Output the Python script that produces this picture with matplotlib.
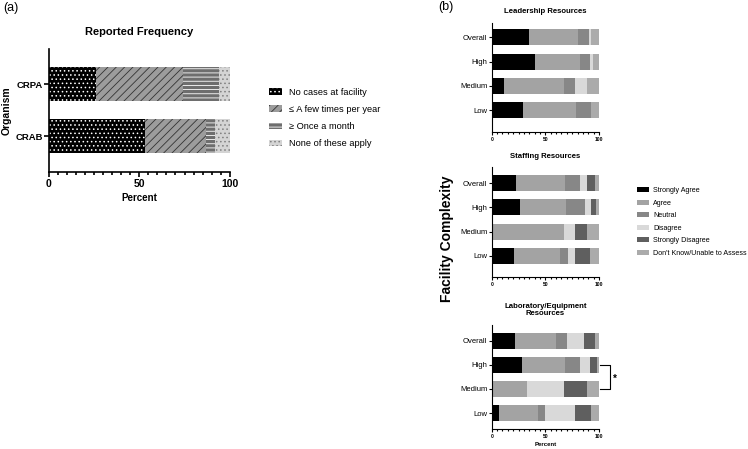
import numpy as np
import matplotlib
matplotlib.use('Agg')
import matplotlib.pyplot as plt
from matplotlib.ticker import MultipleLocator

plt.rcParams['font.family'] = ['Liberation Sans', 'DejaVu Sans']
plt.rcParams['hatch.linewidth'] = 0.6

W, H = 748, 449

# (a) Reported frequency, bottom to top
organisms = ['CRAB', 'CRPA']
freq_labels = ['No cases at facility', '\u2264 A few times per year',
               '\u2265 Once a month', 'None of these apply']
no_cases = [53, 26]
few_times = [34, 48]
once_month = [5, 20]
none_apply = [8, 6]

# (b) Facility complexity, bottom to top
complexity = ['Low', 'Medium', 'High', 'Overall']
resp_labels = ['Strongly Agree', 'Agree', 'Neutral', 'Disagree',
               'Strongly Disagree', "Don't Know/Unable to Assess"]
# rows: SA, A, N, D, SD, DK ; columns: Low, Medium, High, Overall
leadership = [[29, 11, 40, 35],
              [50, 56, 42, 45],
              [14, 11, 10, 11],
              [0, 11, 2, 2],
              [0, 0, 0, 0],
              [7, 11, 6, 7]]
staffing = [[21, 0, 26, 23],
            [43, 67, 43, 45],
            [7, 0, 18, 14],
            [7, 11, 6, 7],
            [14, 11, 4, 7],
            [8, 11, 3, 4]]
laboratory = [[7, 0, 28, 22],
              [36, 33, 40, 38],
              [7, 0, 14, 10],
              [28, 34, 10, 16],
              [15, 22, 6, 10],
              [7, 11, 2, 4]]

resp_colors = ['#000000', '#a3a3a3', '#878787', '#d9d9d9', '#5f5f5f', '#ababab']


def px_box(left, top, right, bottom):
    """Axes rectangle from pixel edges (origin top-left)."""
    return [left / W, 1 - bottom / H, (right - left) / W, (bottom - top) / H]


def stack_bars(ax, series, labels, colors, hatches=None, edges=None, height=0.66):
    ypos = np.arange(len(series[0]))
    left = np.zeros(len(ypos))
    handles = []
    for i, vals in enumerate(series):
        bars = ax.barh(ypos, vals, left=left, height=height, color=colors[i],
                       hatch=hatches[i] if hatches else None,
                       edgecolor=edges[i] if edges else colors[i],
                       linewidth=0, label=labels[i])
        handles.append(bars)
        left += np.array(vals, dtype=float)
    return handles


def prism_axes(ax, lw, major_len, minor_len):
    ax.spines['top'].set_visible(False)
    ax.spines['right'].set_visible(False)
    ax.spines['left'].set_linewidth(lw)
    ax.spines['bottom'].set_linewidth(lw)
    ax.set_xlim(0, 100)
    ax.set_xticks([0, 50, 100])
    ax.xaxis.set_minor_locator(MultipleLocator(5))
    ax.tick_params(axis='x', which='major', length=major_len, width=lw, pad=1.5)
    ax.tick_params(axis='x', which='minor', length=minor_len, width=lw)
    ax.tick_params(axis='y', length=major_len, width=lw, pad=1)
    for t in ax.get_xticklabels():
        t.set_fontweight('bold')


fig = plt.figure(figsize=(W / 100, H / 100), dpi=100)

# ---------------- panel (a) ----------------
ax_a = fig.add_axes(px_box(49, 49, 229.7, 171.7))
freq_handles = stack_bars(
    ax_a, [no_cases, few_times, once_month, none_apply], freq_labels,
    colors=['#000000', '#9c9c9c', '#6e6e6e', '#d4d4d4'],
    hatches=['....', '////', '----', '....'],
    edges=['white', '#333333', 'white', '#808080'],
    height=0.65)
prism_axes(ax_a, 1.2, 3.5, 2)
ax_a.set_ylim(-0.68, 1.68)
ax_a.set_yticks([0, 1])
ax_a.set_yticklabels(organisms, fontsize=6.8, fontweight='bold')
for t in ax_a.get_xticklabels():
    t.set_fontsize(7.5)
ax_a.set_xlabel('Percent', fontsize=7, fontweight='bold', labelpad=3)
ax_a.set_ylabel('Organism', fontsize=7.5, fontweight='bold')
ax_a.yaxis.set_label_coords(-0.205, 0.5)
ax_a.set_title('Reported Frequency', fontsize=8, fontweight='bold', pad=10)

fig.legend(freq_handles, freq_labels, loc='center left',
           bbox_to_anchor=(269 / W, 1 - 118 / H), frameon=False,
           fontsize=6.7, handlelength=1.45, handleheight=0.7,
           handletextpad=0.7, labelspacing=0.89, borderpad=0, borderaxespad=0)

fig.text(3 / W, 1 - 8 / H, '(a)', fontsize=9, va='center', ha='left')
fig.text(438 / W, 1 - 7 / H, '(b)', fontsize=9, va='center', ha='left')

# ---------------- panel (b) ----------------
panels = [
    ('Leadership Resources', leadership, (491.7, 22.7, 599, 132), (-0.89, 3.6)),
    ('Staffing Resources', staffing, (491.7, 167.3, 599, 277), (-0.88, 3.66)),
    ('Laboratory/Equipment\nResources', laboratory, (491.7, 325, 599, 429), (-0.66, 3.65)),
]
resp_handles = None
for title, data, box, ylim in panels:
    ax = fig.add_axes(px_box(*box))
    handles = stack_bars(ax, data, resp_labels, resp_colors, height=0.66)
    if resp_handles is None:
        resp_handles = handles
    prism_axes(ax, 0.8, 2.2, 1.3)
    ax.set_ylim(*ylim)
    ax.set_yticks(range(len(complexity)))
    ax.set_yticklabels(complexity, fontsize=5.5)
    for t in ax.get_xticklabels():
        t.set_fontsize(3.6)
    ax.set_title(title, fontsize=5.6, fontweight='bold', pad=7, linespacing=1.1)
    lab_ax = ax

lab_ax.set_xlabel('Percent', fontsize=4.3, fontweight='bold', labelpad=2)

# significance bracket between High and Medium
lab_ax.plot([101, 110.3, 110.3, 101], [2, 2, 1, 1], color='black', lw=0.8,
            clip_on=False)
lab_ax.text(113.2, 1.42, '*', fontsize=7, fontweight='bold', ha='left',
            va='center', clip_on=False)

fig.text(447 / W, 1 - 239 / H, 'Facility Complexity', rotation=90,
         fontsize=10, fontweight='bold', ha='center', va='center')

fig.legend(resp_handles, resp_labels, loc='center left',
           bbox_to_anchor=(637 / W, 1 - 222 / H), frameon=False,
           fontsize=5.1, handlelength=1.65, handleheight=0.75,
           handletextpad=0.6, labelspacing=0.77, borderpad=0, borderaxespad=0)

fig.savefig('out.png', dpi=100)
